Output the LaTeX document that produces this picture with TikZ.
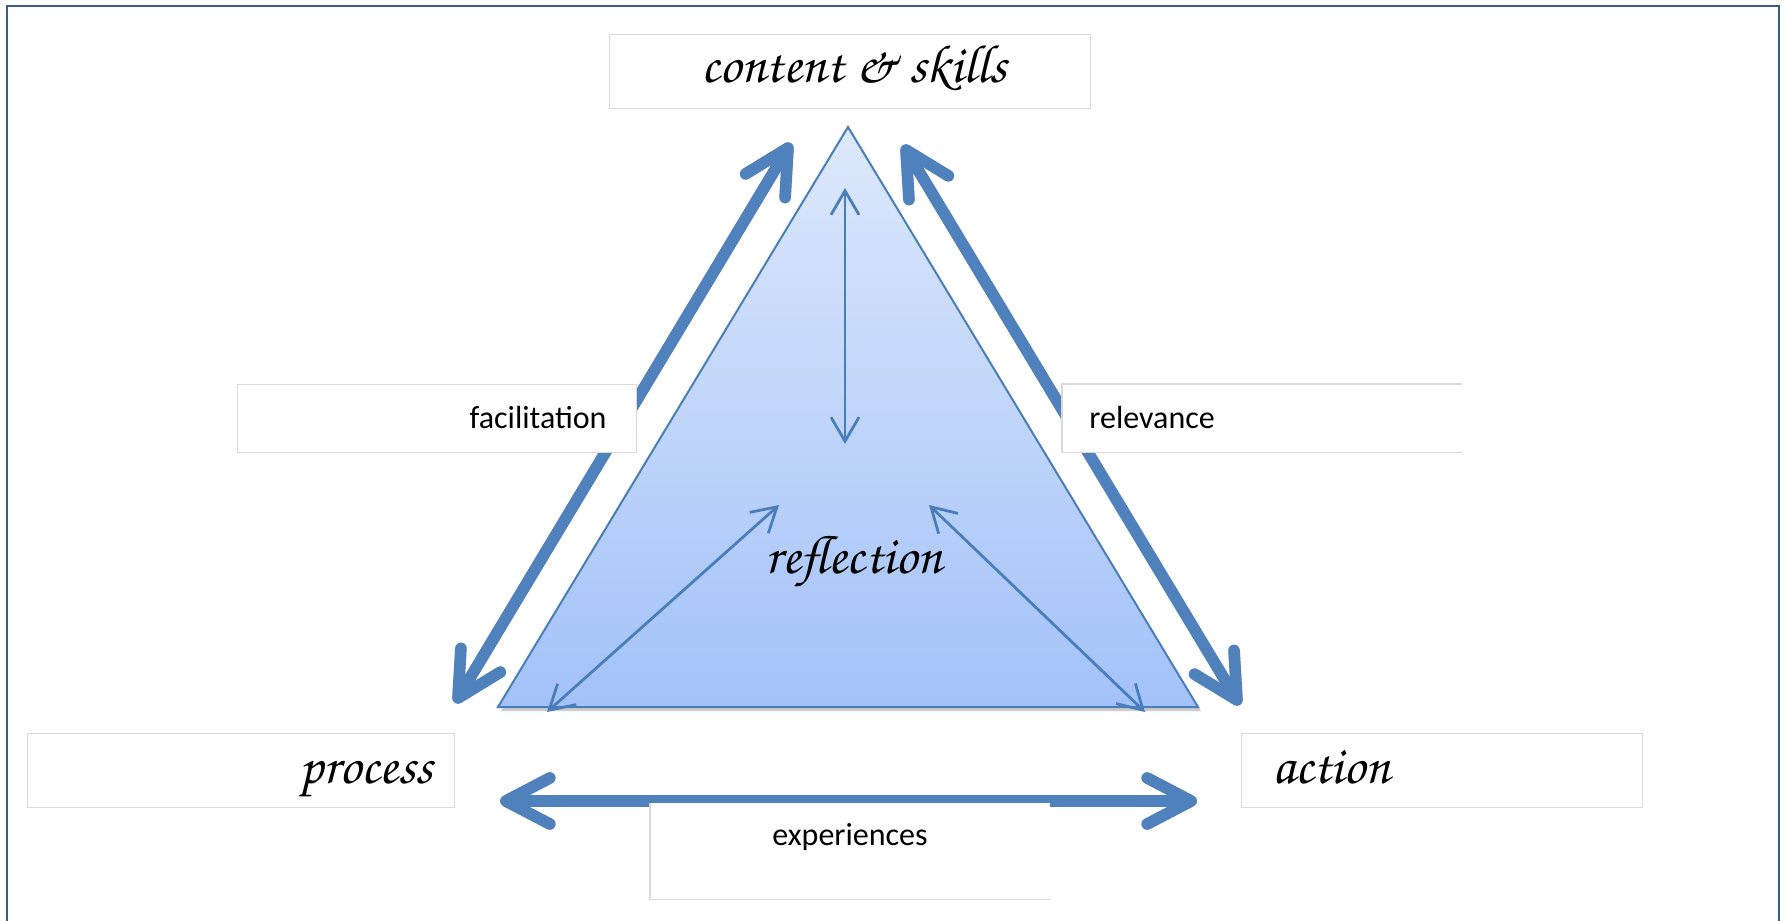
\documentclass[tikz,border=0pt]{standalone}
\usepackage[T1,TU]{fontenc}
\usepackage{fontspec}
\setsansfont{Carlito}
\usetikzlibrary{arrows.meta}

\definecolor{framec}{HTML}{385D8A}
\definecolor{arrowc}{HTML}{4F81BD}
\definecolor{triedge}{HTML}{4A7EBB}
\definecolor{tritop}{HTML}{DDE8FB}
\definecolor{tribot}{HTML}{A3C2F9}
\definecolor{boxedge}{HTML}{D9D9D9}
\definecolor{shadowc}{HTML}{CCCCCC}

% calligraphic face for the four corner words
\newcommand\calli{\fontencoding{T1}\fontfamily{pzc}\fontseries{mb}\fontshape{it}\fontsize{27}{31}\selectfont}

\begin{document}
\begin{tikzpicture}[x=0.5pt,y=-0.5pt,
  bigarrow/.style={line width=5.8pt,draw=arrowc,line cap=round,{Straight Barb[length=22pt,width=23pt,round]}-{Straight Barb[length=22pt,width=23pt,round]}},
  bigshadow/.style={line width=5.8pt,draw=shadowc,line cap=round,{Straight Barb[length=22pt,width=23pt,round]}-{Straight Barb[length=22pt,width=23pt,round]}},
  thinarrow/.style={line width=1.4pt,draw=triedge,{Straight Barb[length=12pt,width=14pt]}-{Straight Barb[length=12pt,width=14pt]}},
  box/.style={draw=boxedge,line width=0.6pt,fill=white,inner sep=0pt},
  openbox/.style={fill=white,inner sep=0pt},
  boxline/.style={draw=boxedge,line width=0.6pt},
  sanslabel/.style={font=\sffamily\fontsize{16}{19}\selectfont,inner sep=0pt},
  calllabel/.style={font=\calli,inner sep=0pt}
]
\useasboundingbox (0,0) rectangle (1785,921);
\fill[white] (0,0) rectangle (1785,921);

% outer frame
\draw[framec,line width=1.2pt] (7,930) -- (7,6) -- (1779,6) -- (1779,930);

% corner points of the triangle and ends of the arrows
\coordinate (apex) at (848,127);
\coordinate (bl) at (498,707);
\coordinate (br) at (1198,707);
\coordinate (lt) at (791,143);
\coordinate (lb) at (455,703);
\coordinate (rt) at (903,145);
\coordinate (rb) at (1240,705);
\coordinate (ebl) at (500,801);
\coordinate (ebr) at (1197,801);
\coordinate (vt) at (845,188);
\coordinate (vb) at (845,444);
\coordinate (dl) at (547,712);
\coordinate (dlt) at (779,505);
\coordinate (dr) at (1145,712);
\coordinate (drt) at (929,505);

% triangle with its shadow
\fill[shadowc] ([shift={(3,4)}]apex) -- ([shift={(3,4)}]bl) -- ([shift={(3,4)}]br) -- cycle;
\shade[top color=tritop,bottom color=tribot] (apex) -- (bl) -- (br) -- cycle;
\draw[triedge,line width=1pt,line join=miter] (apex) -- (bl) -- (br) -- cycle;

% arrows inside the triangle
\draw[thinarrow] (vt) -- (vb);
\draw[thinarrow] (dl) -- (dlt);
\draw[thinarrow] (dr) -- (drt);

% thick arrows along the sides
\begin{scope}[shift={(3,5)}]
\draw[bigshadow] (lb) -- (lt);
\draw[bigshadow] (rt) -- (rb);
\draw[bigshadow] (ebl) -- (ebr);
\end{scope}
\draw[bigarrow] (lb) -- (lt);
\draw[bigarrow] (rt) -- (rb);
\draw[bigarrow] (ebl) -- (ebr);

% label boxes
\node[box,anchor=north west,minimum width=240.5pt,minimum height=37pt] (cbox) at (609,34) {};
\node[box,anchor=north west,minimum width=199.5pt,minimum height=34pt] (fbox) at (237,384) {};
\node[openbox,anchor=north west,minimum width=199.5pt,minimum height=34pt] (rbox) at (1062,384) {};
\draw[boxline] (rbox.north east) -- (rbox.north west) -- (rbox.south west) -- (rbox.south east);
\node[box,anchor=north west,minimum width=213.5pt,minimum height=37pt] (pbox) at (27,733) {};
\node[box,anchor=north west,minimum width=200.5pt,minimum height=37pt] (abox) at (1241,733) {};
\node[openbox,anchor=north west,minimum width=200pt,minimum height=48pt] (ebox) at (650,803) {};
\draw[boxline] (ebox.north west) -- (ebox.south west) -- (ebox.south east);

% texts
\node[calllabel,anchor=base] (ctext) at (854,83) {content \& skills};
\node[calllabel,anchor=base] (reftext) at (854,573) {reflection};
\node[calllabel,anchor=base east] (ptext) at (433,783) {process};
\node[calllabel,anchor=base west] (atext) at (1272,783) {action};
\node[sanslabel,anchor=base east] (ftext) at (607,428) {facilitation};
\node[sanslabel,anchor=base west] (rtext) at (1089,428) {relevance};
\node[sanslabel,anchor=base] (etext) at (850,845) {experiences};
\end{tikzpicture}
\end{document}
